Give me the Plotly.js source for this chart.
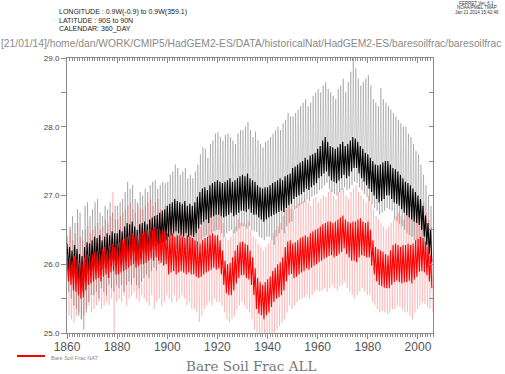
<!DOCTYPE html>
<html><head><meta charset="utf-8">
<script src="https://cdn.plot.ly/plotly-3.0.1.min.js"></script>
<style>html,body{margin:0;padding:0;background:#fff;}#chart{width:505px;height:374px;}</style>
</head><body><div id="chart"></div>
<script>
const FIRST_YEAR = 1860;
// Bare Soil Frac ALL (black): yearly seasonal-cycle core high/low and extreme max/min
const ALL_HI = [26.30,26.25,26.20,26.28,26.22,26.15,26.12,26.25,26.32,26.30,
 26.35,26.40,26.38,26.42,26.35,26.40,26.45,26.42,26.48,26.45,
 26.45,26.50,26.48,26.55,26.60,26.58,26.62,26.55,26.50,26.58,
 26.60,26.62,26.58,26.65,26.68,26.70,26.72,26.75,26.78,26.80,
 26.85,26.88,26.90,26.95,26.92,26.90,26.88,26.92,26.85,26.88,
 26.85,26.90,26.98,27.05,27.10,27.12,27.08,27.15,27.18,27.20,
 27.22,27.20,27.18,27.20,27.22,27.25,27.20,27.22,27.25,27.28,
 27.30,27.28,27.32,27.25,27.22,27.20,27.15,27.12,27.10,27.12,
 27.12,27.15,27.18,27.20,27.22,27.25,27.22,27.28,27.30,27.32,
 27.40,27.42,27.45,27.48,27.50,27.55,27.52,27.58,27.60,27.62,
 27.68,27.72,27.80,27.85,27.78,27.72,27.70,27.68,27.70,27.75,
 27.78,27.72,27.75,27.80,27.85,27.83,27.78,27.72,27.68,27.62,
 27.60,27.55,27.50,27.45,27.44,27.45,27.48,27.50,27.50,27.45,
 27.40,27.38,27.35,27.30,27.25,27.20,27.18,27.15,27.10,27.05,
 27.00,26.95,26.85,26.71,26.60,26.50];
const ALL_LO = [25.90,25.85,25.80,25.78,25.72,25.65,25.60,25.75,25.85,25.88,
 25.92,25.95,25.90,25.98,25.92,25.95,26.00,25.98,26.02,26.00,
 26.00,26.02,25.98,26.05,26.10,26.08,26.12,26.05,26.00,26.08,
 26.15,26.18,26.12,26.20,26.22,26.25,26.28,26.30,26.32,26.35,
 26.40,26.42,26.45,26.48,26.45,26.42,26.40,26.45,26.40,26.42,
 26.40,26.45,26.52,26.58,26.62,26.65,26.60,26.68,26.70,26.72,
 26.72,26.70,26.68,26.70,26.72,26.75,26.70,26.72,26.75,26.78,
 26.78,26.76,26.80,26.75,26.72,26.72,26.68,26.65,26.62,26.65,
 26.68,26.70,26.72,26.74,26.76,26.78,26.76,26.82,26.86,26.88,
 26.95,26.98,27.00,27.02,27.05,27.10,27.08,27.12,27.15,27.18,
 27.25,27.28,27.32,27.35,27.28,27.22,27.20,27.18,27.22,27.25,
 27.30,27.25,27.28,27.35,27.40,27.40,27.32,27.25,27.20,27.15,
 27.10,27.05,27.00,26.95,26.90,26.92,26.95,27.00,27.00,26.95,
 26.90,26.88,26.85,26.80,26.75,26.71,26.68,26.65,26.62,26.60,
 26.57,26.50,26.40,26.28,26.15,26.03];
const ALL_MAX = [26.40,26.55,26.70,26.60,26.80,26.75,26.50,26.85,26.90,26.70,
 26.80,26.90,26.95,26.75,26.70,26.85,26.80,26.90,26.75,26.85,
 26.85,26.90,26.95,27.05,27.20,27.10,27.15,26.95,26.90,27.05,
 27.00,27.10,27.05,27.15,27.20,27.22,27.10,27.15,27.20,27.18,
 27.20,27.30,27.35,27.45,27.40,27.30,27.35,27.40,27.25,27.30,
 27.25,27.35,27.45,27.60,27.70,27.68,27.55,27.75,27.80,27.90,
 27.92,27.85,27.80,27.88,27.90,27.85,27.80,27.75,27.90,27.95,
 27.95,28.00,28.07,27.95,27.85,27.93,27.80,27.75,27.70,27.78,
 27.80,27.85,27.90,27.95,28.00,27.95,28.05,28.10,28.20,28.15,
 28.15,28.20,28.25,28.30,28.35,28.40,28.30,28.35,28.45,28.50,
 28.55,28.50,28.60,28.65,28.55,28.50,28.45,28.40,28.55,28.60,
 28.70,28.50,28.65,28.80,29.00,28.85,28.70,28.60,28.65,28.70,
 28.75,28.60,28.40,28.35,28.30,28.56,28.40,28.35,28.30,28.25,
 28.20,28.15,28.10,28.05,28.00,28.00,27.90,27.85,27.75,27.65,
 27.60,27.45,27.30,27.15,27.00,26.85];
const ALL_MIN = [25.60,25.50,25.40,25.35,25.25,25.20,25.05,25.30,25.45,25.55,
 25.55,25.60,25.50,25.65,25.60,25.55,25.70,25.65,25.60,25.70,
 25.65,25.70,25.60,25.70,25.75,25.70,25.80,25.70,25.65,25.75,
 25.80,25.85,25.80,25.90,25.95,25.90,26.00,26.05,26.00,26.10,
 26.10,26.15,26.20,26.22,26.15,26.20,26.18,26.22,26.10,26.15,
 26.15,26.20,26.30,26.35,26.40,26.42,26.38,26.45,26.48,26.50,
 26.50,26.45,26.40,26.45,26.48,26.50,26.45,26.48,26.52,26.55,
 26.55,26.52,26.55,26.50,26.48,26.47,26.40,26.38,26.35,26.40,
 26.40,26.35,26.28,26.40,26.45,26.50,26.45,26.55,26.60,26.62,
 26.80,26.82,26.85,26.88,26.90,26.95,26.92,26.98,27.00,27.02,
 27.08,27.10,27.15,27.18,27.10,27.05,27.02,27.00,27.05,27.08,
 27.12,27.08,27.10,27.15,27.20,27.18,27.12,27.08,27.02,26.98,
 26.92,26.88,26.82,26.78,26.72,26.75,26.78,26.82,26.80,26.78,
 26.65,26.62,26.58,26.55,26.50,26.45,26.42,26.40,26.35,26.32,
 26.30,26.20,26.10,25.95,25.85,25.75];
// Bare Soil Frac NAT (red)
const NAT_HI = [26.15,26.10,26.05,26.12,26.08,26.02,26.00,26.10,26.15,26.12,
 26.15,26.18,26.20,26.15,26.22,26.25,26.20,26.28,26.30,26.25,
 26.30,26.32,26.35,26.38,26.40,26.42,26.45,26.40,26.42,26.45,
 26.45,26.48,26.50,26.52,26.50,26.55,26.52,26.50,26.48,26.50,
 26.45,26.42,26.45,26.40,26.42,26.42,26.40,26.38,26.42,26.40,
 26.38,26.35,26.33,26.30,26.35,26.38,26.40,26.42,26.45,26.42,
 26.42,26.35,26.20,26.05,26.00,26.02,26.10,26.20,26.28,26.32,
 26.33,26.30,26.28,26.20,26.10,25.94,25.80,25.74,25.70,25.74,
 25.78,25.82,25.90,25.95,26.00,26.03,26.10,26.25,26.33,26.35,
 26.30,26.32,26.35,26.38,26.40,26.42,26.40,26.45,26.48,26.50,
 26.52,26.55,26.58,26.60,26.62,26.62,26.60,26.62,26.65,26.68,
 26.71,26.65,26.62,26.60,26.62,26.62,26.65,26.67,26.62,26.60,
 26.62,26.50,26.35,26.25,26.22,26.20,26.18,26.15,26.13,26.20,
 26.28,26.30,26.28,26.25,26.28,26.28,26.30,26.28,26.30,26.35,
 26.37,26.40,26.38,26.33,26.25,26.13];
const NAT_LO = [25.75,25.70,25.62,25.60,25.55,25.50,25.52,25.62,25.70,25.72,
 25.75,25.78,25.80,25.75,25.82,25.85,25.80,25.88,25.90,25.85,
 25.85,25.88,25.90,25.92,25.95,25.98,26.00,25.95,25.98,26.00,
 26.00,26.02,26.05,26.08,26.05,26.10,26.05,26.02,25.98,26.00,
 25.85,25.88,25.90,25.85,25.88,25.90,25.88,25.85,25.88,25.85,
 25.85,25.82,25.80,25.82,25.85,25.88,25.90,25.92,25.95,25.92,
 25.94,25.85,25.70,25.58,25.55,25.55,25.62,25.72,25.80,25.84,
 25.84,25.80,25.78,25.70,25.55,25.35,25.28,25.26,25.20,25.26,
 25.30,25.38,25.45,25.50,25.52,25.55,25.62,25.75,25.84,25.86,
 25.80,25.82,25.85,25.88,25.90,25.94,25.92,25.95,25.98,26.00,
 26.03,26.05,26.08,26.10,26.12,26.13,26.10,26.12,26.15,26.18,
 26.23,26.15,26.10,26.05,26.05,26.03,26.10,26.13,26.12,26.10,
 26.10,25.98,25.85,25.75,25.70,25.68,25.66,25.65,25.65,25.70,
 25.74,25.76,25.74,25.72,25.74,25.74,25.76,25.72,25.78,25.82,
 25.89,25.90,25.88,25.84,25.75,25.65];
const NAT_MAX = [26.42,26.50,26.35,26.45,26.60,26.40,26.35,26.50,26.55,26.45,
 26.50,26.55,26.60,26.50,26.55,26.65,26.60,26.70,27.05,26.65,
 26.65,26.70,26.75,26.80,26.85,26.90,26.80,26.75,26.85,26.80,
 26.80,26.85,26.90,26.95,26.85,26.90,26.95,26.80,26.75,26.85,
 26.75,26.70,26.72,26.68,26.70,26.75,26.65,26.70,26.72,26.68,
 26.65,26.60,26.62,26.55,26.65,26.70,26.72,26.75,26.80,26.78,
 26.75,26.70,26.60,26.40,26.35,26.40,26.50,26.55,26.65,26.60,
 26.60,26.58,26.62,26.50,26.40,26.37,26.30,26.25,26.20,26.25,
 26.30,26.35,26.45,26.50,26.55,26.60,26.70,26.80,26.86,26.80,
 26.80,26.85,26.88,26.90,26.92,26.96,26.90,26.85,26.95,26.98,
 26.90,26.95,27.00,26.98,27.05,27.10,27.00,26.95,27.05,27.10,
 27.10,27.00,26.95,27.05,27.10,27.15,27.05,27.00,26.95,26.90,
 27.00,26.90,26.80,26.70,26.65,26.60,26.55,26.50,26.55,26.60,
 26.65,26.70,26.75,26.70,26.65,26.70,26.75,26.68,26.72,26.75,
 26.80,26.85,26.90,26.75,26.65,26.55];
const NAT_MIN = [25.25,25.20,25.15,25.25,25.30,25.20,25.25,25.35,25.40,25.30,
 25.35,25.40,25.45,25.35,25.40,25.45,25.40,25.50,24.95,25.45,
 25.50,25.45,25.55,25.40,25.50,25.55,25.60,25.50,25.45,25.55,
 25.50,25.45,25.40,25.55,25.35,25.45,25.50,25.40,25.45,25.55,
 25.50,25.45,25.55,25.45,25.50,25.55,25.50,25.40,25.45,25.35,
 25.35,25.30,25.16,25.25,25.35,25.40,25.45,25.40,25.50,25.45,
 25.45,25.40,25.30,25.20,25.16,25.20,25.25,25.35,25.40,25.45,
 25.40,25.35,25.30,25.20,25.05,24.95,24.95,24.95,24.90,24.95,
 24.95,25.00,24.95,25.05,25.10,25.15,25.20,25.30,25.40,25.35,
 25.40,25.45,25.48,25.50,25.52,25.55,25.50,25.55,25.60,25.62,
 25.60,25.62,25.65,25.60,25.65,25.70,25.65,25.62,25.68,25.70,
 25.75,25.65,25.60,25.55,25.50,25.55,25.60,25.65,25.60,25.55,
 25.55,25.45,25.40,25.35,25.30,25.32,25.30,25.28,25.30,25.35,
 25.35,25.40,25.38,25.35,25.30,25.30,25.25,25.20,25.30,25.35,
 25.40,25.45,25.42,25.38,25.35,25.30];
const Y_TICKS = [25, 25.5, 26, 26.5, 27, 27.5, 28, 28.5, 29];
const Y_LABELS = ['25.0', '', '26.0', '', '27.0', '', '28.0', '', '29.0'];

const YEARS = ALL_HI.map((_, i) => FIRST_YEAR + i);

function zig(a, b, offA, offB) {
  const xs = [], ys = [];
  YEARS.forEach((yr, i) => { xs.push(yr + offA, yr + offB); ys.push(a[i], b[i]); });
  return {x: xs, y: ys};
}

const allExt = zig(ALL_MAX, ALL_MIN, 0.2, 0.7);
const allCore = zig(ALL_HI, ALL_LO, 0.0, 0.5);
const natExt = zig(NAT_MAX, NAT_MIN, 0.3, 0.8);
const natCore = zig(NAT_HI, NAT_LO, 0.05, 0.55);

const traces = [
  {x: allExt.x, y: allExt.y, mode: 'lines', line: {color: 'rgba(0,0,0,0.33)', width: 0.6}, hoverinfo: 'skip', showlegend: false},
  {x: natExt.x, y: natExt.y, mode: 'lines', line: {color: 'rgba(255,0,0,0.28)', width: 0.6}, hoverinfo: 'skip', showlegend: false},
  {x: allCore.x, y: allCore.y, mode: 'lines', line: {color: '#000', width: 1.1}, hoverinfo: 'skip', showlegend: false},
  {x: natCore.x, y: natCore.y, mode: 'lines', line: {color: '#ff0000', width: 1.1}, hoverinfo: 'skip', showlegend: false, xaxis: 'x2', yaxis: 'y2'}
];

const W = 505, H = 374, L = 67, R = 72, T = 58, B = 41;
const PW = W - L - R, PH = H - T - B;
const px = v => (v - L) / PW;
const py = v => (H - B - v) / PH;
const XR = [1860, 2006], YR = [25, 29];
const AX = '#8a8a8a';

function ann(text, x, y, size, color, family, xanchor) {
  return {text: text, xref: 'paper', yref: 'paper', x: px(x), y: py(y), showarrow: false,
    xanchor: xanchor || 'left', yanchor: 'middle', font: {size: size, color: color, family: family}};
}
const SANS = 'Liberation Sans, Arial, sans-serif';

const layout = {
  width: W, height: H, margin: {l: L, r: R, t: T, b: B},
  paper_bgcolor: '#fff', plot_bgcolor: '#fff', showlegend: false,
  xaxis: {range: XR, tickmode: 'linear', tick0: 1860, dtick: 20, ticks: 'outside', ticklen: 5,
    tickcolor: AX, showline: true, linecolor: AX, linewidth: 1, showgrid: false, zeroline: false,
    ticklabelstandoff: -2,
    tickfont: {family: SANS, size: 12, color: '#555'},
    minor: {dtick: 1, tick0: 1860, ticks: 'outside', ticklen: 2.5, tickcolor: AX, showgrid: false}},
  yaxis: {range: YR, tickmode: 'array', tickvals: Y_TICKS, ticktext: Y_LABELS, ticks: 'outside', ticklen: 5,
    tickcolor: AX, showline: true, linecolor: AX, linewidth: 1, showgrid: false, zeroline: false,
    tickfont: {family: SANS, size: 8, color: '#444'}},
  xaxis2: {range: XR, overlaying: 'x', side: 'top', anchor: 'y2', tickmode: 'linear', tick0: 1860, dtick: 20,
    ticks: 'inside', ticklen: 5, tickcolor: AX, showline: true, linecolor: AX, showgrid: false, zeroline: false,
    showticklabels: false,
    minor: {dtick: 1, tick0: 1860, ticks: 'inside', ticklen: 2.5, tickcolor: AX, showgrid: false}},
  yaxis2: {range: YR, overlaying: 'y', side: 'right', anchor: 'x2', tickmode: 'array', tickvals: Y_TICKS,
    ticks: 'inside', ticklen: 4, tickcolor: AX, showline: true, linecolor: AX, showgrid: false, zeroline: false,
    showticklabels: false},
  shapes: [{type: 'line', xref: 'paper', yref: 'paper', x0: px(17), x1: px(45), y0: py(356), y1: py(356),
    line: {color: '#ff0000', width: 2}}],
  annotations: [
    ann('LONGITUDE : 0.9W(-0.9) to 0.9W(359.1)', 57, 12.5, 7, '#222', SANS),
    ann('LATITUDE : 90S to 90N', 57, 20.5, 7, '#222', SANS),
    ann('CALENDAR: 360_DAY', 57, 28.5, 7, '#222', SANS),
    ann('[21/01/14]/home/dan/WORK/CMIP5/HadGEM2-ES/DATA/historicalNat/HadGEM2-ES/baresoilfrac/baresoilfrac', -1, 43, 10.3, '#8a8a8a', SANS),
    ann('FERRET Ver. 6.1', 477, 3, 4.5, '#333', SANS, 'center'),
    ann('NOAA/PMEL TMAP', 477, 7.5, 4.5, '#333', SANS, 'center'),
    ann('Jan 21 2014 15:42:46', 477, 12, 4.5, '#333', SANS, 'center'),
    ann('Bare Soil Frac NAT', 49, 357.5, 5.5, '#888', SANS),
    ann('Bare Soil Frac ALL', 251, 366, 13.5, '#777', 'DejaVu Serif, serif', 'center')
  ]
};

Plotly.newPlot('chart', traces, layout, {staticPlot: true, displayModeBar: false});
</script>
</body></html>
